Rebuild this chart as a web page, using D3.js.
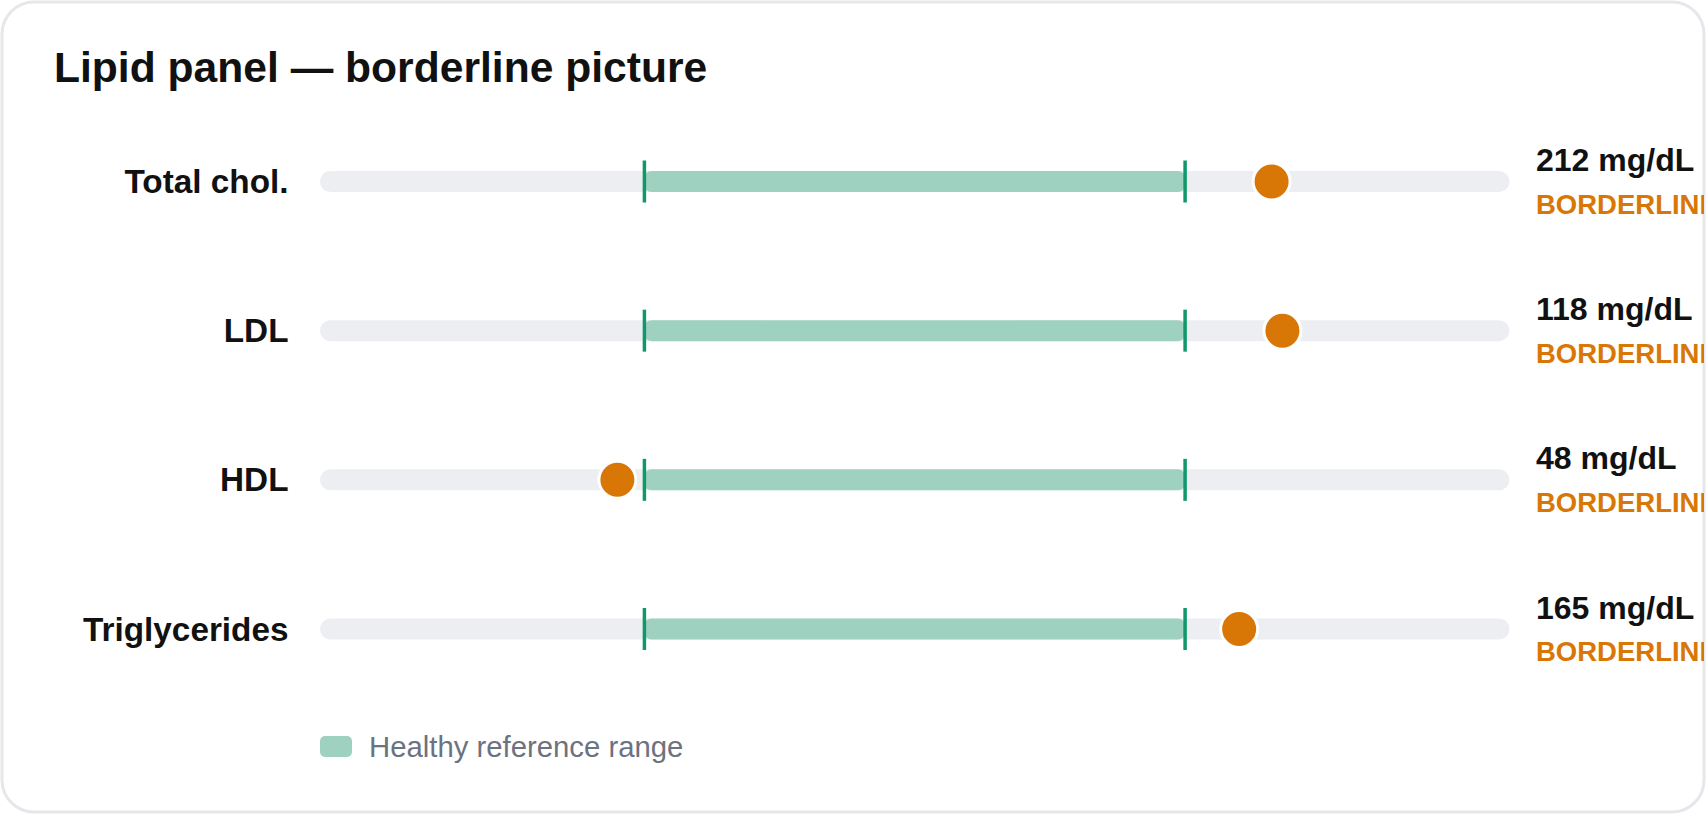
<!DOCTYPE html>
<html>
<head>
<meta charset="utf-8">
<script src="https://cdn.jsdelivr.net/npm/d3@7"></script>
<style>
  html, body { margin: 0; padding: 0; background: #ffffff; }
  svg { display: block; font-family: "Liberation Sans", Arial, Helvetica, sans-serif; }
</style>
</head>
<body>
<svg id="chart" width="1707" height="816"></svg>
<script>
// ---- Data ----
const tests = ["Total chol.", "LDL", "HDL", "Triglycerides"];
const values = [212, 118, 48, 165];
const refLow = [125, 0, 50, 0];
const refHigh = [200, 100, 90, 150];
const units = ["mg/dL", "mg/dL", "mg/dL", "mg/dL"];
const statuses = ["BORDERLINE", "BORDERLINE", "BORDERLINE", "BORDERLINE"];
const title = "Lipid panel \u2014 borderline picture";
const legendLabel = "Healthy reference range";

// ---- Layout ----
const W = 1707, H = 816;
const trackX0 = 320, trackX1 = 1509.5;
const pad = 0.6; // track extends 0.6 x reference width each side
const trackH = 21;
const colors = {
  track: "#eceef2", range: "#9fd1c1", tick: "#10976a",
  dot: "#d97706", text: "#111111", legend: "#6b7280", border: "#e5e7eb"
};

const svg = d3.select("#chart");

const defs = svg.append("defs");
defs.append("clipPath").attr("id", "card-clip")
  .append("rect").attr("x", 2).attr("y", 2).attr("width", W - 5).attr("height", H - 6).attr("rx", 32);

svg.append("rect")
  .attr("x", 2).attr("y", 2).attr("width", W - 5).attr("height", H - 6).attr("rx", 32)
  .attr("fill", "#ffffff").attr("stroke", colors.border).attr("stroke-width", 3);

const g = svg.append("g").attr("clip-path", "url(#card-clip)");

g.append("text")
  .attr("x", 54).attr("y", 82)
  .attr("font-size", 42.6).attr("font-weight", 700).attr("fill", colors.text)
  .text(title);

const y = d3.scalePoint().domain(tests).range([181.5, 629]);

const rows = g.selectAll("g.row")
  .data(tests.map((t, i) => ({
    test: t, value: values[i], lo: refLow[i], hi: refHigh[i], unit: units[i], status: statuses[i]
  })))
  .join("g").attr("class", "row")
  .attr("transform", d => `translate(0,${y(d.test)})`);

rows.each(function(d) {
  const w = d.hi - d.lo;
  const x = d3.scaleLinear()
    .domain([d.lo - pad * w, d.hi + pad * w])
    .range([trackX0, trackX1]);
  const r = d3.select(this);
  const [d0, d1] = x.domain();

  r.append("rect")
    .attr("x", x(d0)).attr("y", -trackH / 2)
    .attr("width", x(d1) - x(d0)).attr("height", trackH)
    .attr("rx", trackH / 2).attr("fill", colors.track);

  r.append("rect")
    .attr("x", x(d.lo)).attr("y", -trackH / 2)
    .attr("width", x(d.hi) - x(d.lo)).attr("height", trackH)
    .attr("rx", 7).attr("fill", colors.range);

  r.selectAll("line.tick")
    .data([d.lo, d.hi])
    .join("line").attr("class", "tick")
    .attr("x1", v => x(v)).attr("x2", v => x(v))
    .attr("y1", -21).attr("y2", 21)
    .attr("stroke", colors.tick).attr("stroke-width", 3.5);

  r.append("circle")
    .attr("cx", x(d.value)).attr("cy", 0).attr("r", 18.5)
    .attr("fill", colors.dot).attr("stroke", "#ffffff").attr("stroke-width", 3);

  r.append("text")
    .attr("x", 288.5).attr("y", 0).attr("dy", "0.35em")
    .attr("text-anchor", "end")
    .attr("font-size", 33.3).attr("font-weight", 700).attr("fill", colors.text)
    .text(d.test);

  r.append("text")
    .attr("x", 1536).attr("y", -10.5)
    .attr("font-size", 32).attr("font-weight", 700).attr("fill", colors.text)
    .text(`${d.value} ${d.unit}`);

  r.append("text")
    .attr("x", 1536).attr("y", 32)
    .attr("font-size", 27.5).attr("font-weight", 700).attr("fill", colors.dot)
    .text(d.status);
});

// Legend
const lg = g.append("g").attr("transform", "translate(320,736)");
lg.append("rect").attr("width", 32).attr("height", 21).attr("rx", 5).attr("fill", colors.range);
lg.append("text").attr("x", 49).attr("y", 20.5)
  .attr("font-size", 29.3).attr("fill", colors.legend).text(legendLabel);
</script>
</body>
</html>
